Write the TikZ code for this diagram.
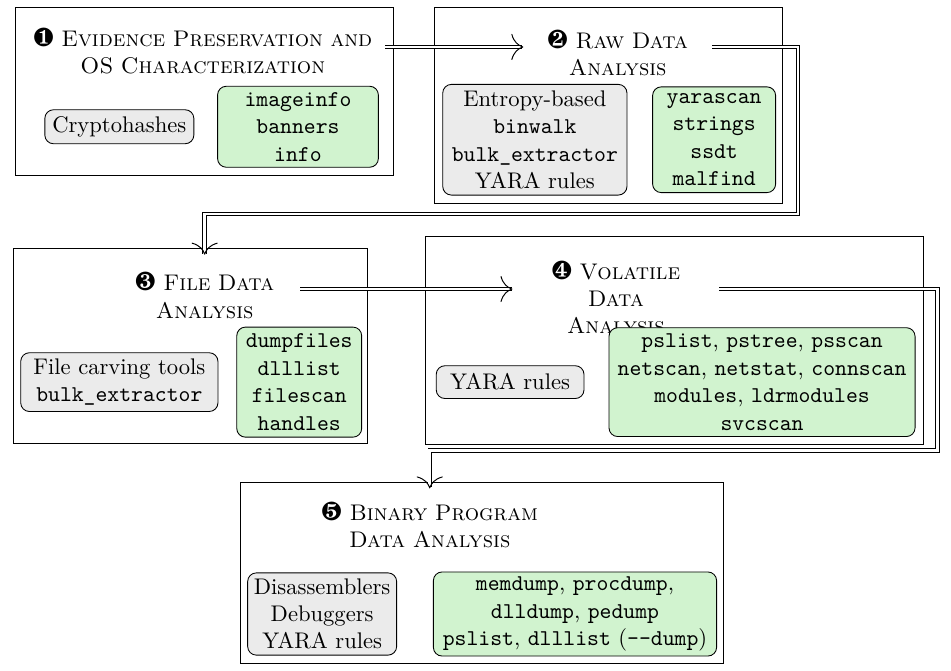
\documentclass[tikz,border=0pt]{standalone}
\usepackage{fontspec}
\usepackage{pifont}
\usepackage{xcolor}
\usetikzlibrary{positioning,arrows.meta}

\definecolor{toolgray}{HTML}{EBEBEB}
\definecolor{pluggreen}{HTML}{D1F3CF}
\newcommand{\stepno}[1]{{\large\ding{#1}}}

\begin{document}
\begin{tikzpicture}[
  every node/.style={font=\fontsize{10.4pt}{12.6pt}\selectfont},
  stage/.style={draw, inner sep=0pt},
  title/.style={align=center, inner xsep=0pt, inner ysep=8pt},
  tool/.style={draw, rounded corners, fill=toolgray, align=center, inner sep=2pt},
  plugin/.style={tool, fill=pluggreen},
  flow/.style={double, double distance=1.2pt, -{Computer Modern Rightarrow[length=5.5pt,width=12pt,line width=0.45pt]}}
]
\useasboundingbox (0,0) rectangle (15.38,10.85);

\node[stage, minimum width=6.11cm, minimum height=2.73cm] (f1) at (3.30,9.37) {};
\node[stage, minimum width=5.64cm, minimum height=3.17cm] (f2) at (9.84,9.15) {};
\node[stage, minimum width=5.74cm, minimum height=3.15cm] (f3) at (3.08,5.25) {};
\node[stage, minimum width=8.05cm, minimum height=3.36cm] (f4) at (10.91,5.35) {};
\node[stage, minimum width=7.81cm, minimum height=2.93cm] (f5) at (7.80,1.59) {};

\node[title, text width=5.89cm] (t1) at (3.28,10.02) {\stepno{182} \textsc{Evidence Preservation and}\\\textsc{OS Characterization}};
\node[title, text width=3.04cm] (t2) at (9.99,9.99) {\stepno{183} \textsc{Raw Data}\\\textsc{Analysis}};
\node[title, text width=3.07cm] (t3) at (3.31,6.07) {\stepno{184} \textsc{File Data}\\\textsc{Analysis}};
\node[title, text width=3.33cm] (t4) at (9.96,6.04) {\stepno{185} \textsc{Volatile}\\\textsc{Data}\\\textsc{Analysis}};
\node[title, text width=3.90cm, inner ysep=6pt] (t5) at (6.95,2.36) {\stepno{186} \textsc{Binary Program}\\\textsc{Data Analysis}};

\node[tool, minimum width=2.41cm, minimum height=0.55cm] (g1) at (1.93,8.80) {Cryptohashes};
\node[plugin, minimum width=2.60cm, minimum height=1.31cm, right=0.37cm of g1] (p1) {\texttt{imageinfo}\\\texttt{banners}\\\texttt{info}};

\node[tool, minimum width=2.98cm, minimum height=1.79cm] (g2) at (8.65,8.59) {Entropy-based\\\texttt{binwalk}\\\texttt{bulk\_extractor}\\YARA rules};
\node[plugin, minimum width=1.99cm, minimum height=1.71cm, right=0.40cm of g2] (p2) {\texttt{yarascan}\\\texttt{strings}\\\texttt{ssdt}\\\texttt{malfind}};

\node[tool, minimum width=3.19cm, minimum height=0.95cm] (g3) at (1.93,4.67) {File carving tools\\\texttt{bulk\_extractor}};
\node[plugin, minimum width=2.02cm, minimum height=1.78cm, right=0.29cm of g3] (p3) {\texttt{dumpfiles}\\\texttt{dlllist}\\\texttt{filescan}\\\texttt{handles}};

\node[tool, minimum width=2.39cm, minimum height=0.53cm] (g4) at (8.25,4.67) {YARA rules};
\node[plugin, minimum width=4.95cm, minimum height=1.76cm, right=0.39cm of g4] (p4) {\texttt{pslist}, \texttt{pstree}, \texttt{psscan}\\\texttt{netscan}, \texttt{netstat}, \texttt{connscan}\\\texttt{modules}, \texttt{ldrmodules}\\\texttt{svcscan}};

\node[tool, minimum width=2.41cm, minimum height=1.33cm] (g5) at (5.21,0.92) {Disassemblers\\Debuggers\\YARA rules};
\node[plugin, minimum width=4.58cm, minimum height=1.36cm, right=0.58cm of g5] (p5) {\texttt{memdump}, \texttt{procdump},\\\texttt{dlldump}, \texttt{pedump}\\\texttt{pslist}, \texttt{dlllist} (\texttt{-{}-dump})};

\coordinate (o1) at ([yshift=2pt]t1.east);
\coordinate (o2) at (o1 -| t2.east);
\coordinate (o3) at ([yshift=3pt]t3.east);
\coordinate (o4) at (o3 -| t4.east);

\draw[flow] (o1) -- (o1 -| t2.west);
\draw[flow] (o2) -- ++(1.39,0) -- ++(0,-2.70) -| (t3.north);
\draw[flow] (o3) -- (o3 -| t4.west);
\draw[flow] (o4) -- ++(3.53,0) -- ++(0,-2.61) -| (t5.north);
\end{tikzpicture}
\end{document}
